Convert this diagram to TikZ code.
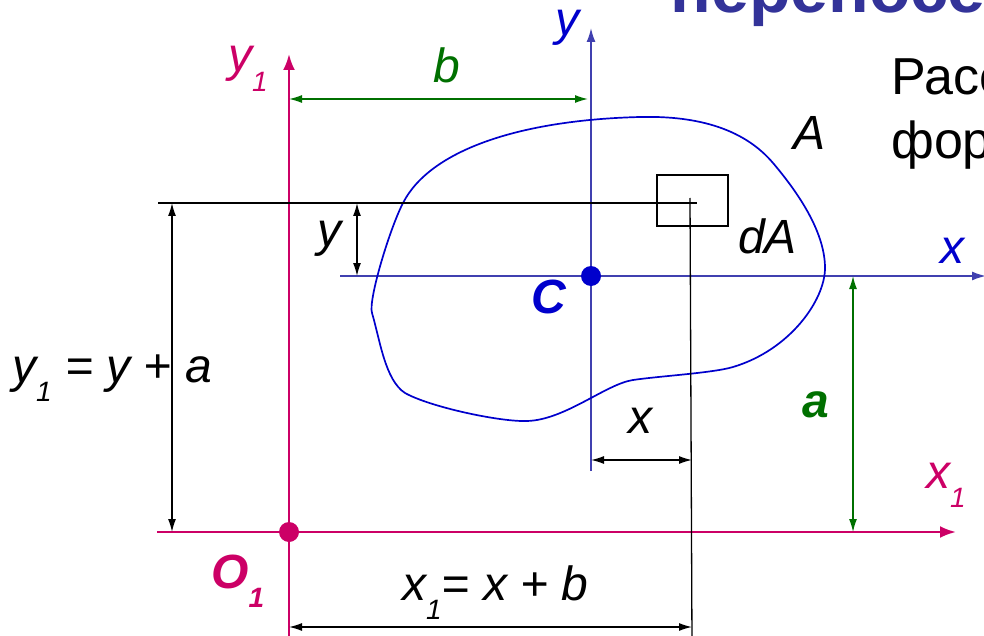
\documentclass[tikz,border=0pt]{standalone}
\usepackage{fontspec}
\setmainfont{Liberation Sans}
\usetikzlibrary{arrows.meta}
\definecolor{pinkc}{RGB}{204,0,102}
\definecolor{axblue}{RGB}{64,64,176}
\definecolor{blobblue}{RGB}{0,0,204}
\definecolor{dgreen}{RGB}{0,112,0}
\definecolor{titleblue}{RGB}{51,51,153}
\newcommand\subone{\raisebox{-0.4em}{\fontsize{28}{28}\selectfont 1}}
\begin{document}
\begin{tikzpicture}[x=1pt,y=-1pt,
  lab/.style={inner sep=0pt,anchor=base west,font=\fontsize{48}{56}\selectfont\itshape},
  blab/.style={lab,font=\fontsize{48}{56}\selectfont\bfseries\itshape},
  dimline/.style={line width=1.3pt,{Latex[length=13pt,width=8pt]}-{Latex[length=13pt,width=8pt]}},
  pinkaxis/.style={pinkc,line width=2.5pt,-{Latex[length=16pt,width=12pt]}},
  blueaxis/.style={axblue,line width=1.6pt,-{Latex[length=14pt,width=9pt]}}]
\useasboundingbox (0,0) rectangle (984,636);
\clip (0,0) rectangle (984,636);
% coordinates
\coordinate (O1) at (289,532);
\coordinate (C) at (591,276);
\coordinate (y1top) at (289,54);
\coordinate (y1bot) at (289,645);
\coordinate (x1left) at (157,532);
\coordinate (x1right) at (956,532);
\coordinate (ytop) at (591,28);
\coordinate (ybot) at (591,471);
\coordinate (xleft) at (340,276);
\coordinate (xright) at (986,276);
\coordinate (hl) at (158,203);
\coordinate (hr) at (697,203);
\coordinate (vt) at (690,198);
\coordinate (vb) at (692,645);
% axes
\draw[pinkaxis] (y1bot) -- (y1top);
\draw[pinkaxis] (x1left) -- (x1right);
\draw[blueaxis] (ybot) -- (ytop);
\draw[blueaxis] (xleft) -- (xright);
% blob
\draw[blobblue,line width=1.7pt] (403,203)
  .. controls (430,150) and (520,120) .. (640,117)
  .. controls (700,115.5) and (745,130) .. (773,163)
  .. controls (795,189) and (825,230) .. (825,268)
  .. controls (825,300) and (790,350) .. (733,367)
  .. controls (713,373) and (660,376) .. (633,380)
  .. controls (606,384) and (565,420) .. (527,421)
  .. controls (500,422) and (430,407) .. (405,393)
  .. controls (385,380) and (380,340) .. (372,313)
  .. controls (368,300) and (390,228) .. (403,203) -- cycle;
% element dA
\draw[line width=1.5pt] (657,175) rectangle (728,226);
\draw[line width=1.5pt] (hl) -- (hr);
\draw[line width=1.3pt] (vt) -- (vb);
% dimensions
\draw[dimline] (357,203) -- (357,276);
\draw[dimline] (172,203) -- (172,532);
\draw[dimline] (591,460) -- (692,460);
\draw[dimline] (289,627) -- (692,627);
\draw[dimline,dgreen] (289,99) -- (588,99);
\draw[dimline,dgreen] (853,276) -- (853,532);
% dots
\fill[pinkc] (O1) circle (10);
\fill[blobblue] (C) circle (10);
% labels
\node[lab,text=pinkc] (ly1) at (228,72) {y\subone};
\node[lab,text=dgreen] (lb) at (433,83) {b};
\node[lab,text=blobblue] (ly) at (555,36) {y};
\node[lab] (lA) at (793,150) {A};
\node[lab] (ldA) at (738,253) {dA};
\node[lab,text=blobblue] (lx) at (940,263) {x};
\node[lab] (lyy) at (317,247) {y};
\node[blab,text=blobblue] (lC) at (531,313) {C};
\node[lab] (ly1eq) at (12,382) {y\subone{} = y + a};
\node[lab] (lxx) at (628,433) {x};
\node[blab,text=dgreen] (la) at (802,417) {a};
\node[lab,text=pinkc] (lx1) at (926,488) {x\subone};
\node[blab,text=pinkc] (lO1) at (211,588) {O\subone};
\node[lab] (lx1eq) at (402,600) {x\subone= x + b};
% top text
\node[inner sep=0pt,anchor=base west,text=titleblue,font=\fontsize{68}{74}\selectfont\bfseries] (title) at (670,13) {переносе};
\node[inner sep=0pt,anchor=base west,font=\fontsize{52}{60}\selectfont] (t1) at (891,95) {Расс};
\node[inner sep=0pt,anchor=base west,font=\fontsize{52}{60}\selectfont] (t2) at (891,159) {фор};
\end{tikzpicture}
\end{document}
